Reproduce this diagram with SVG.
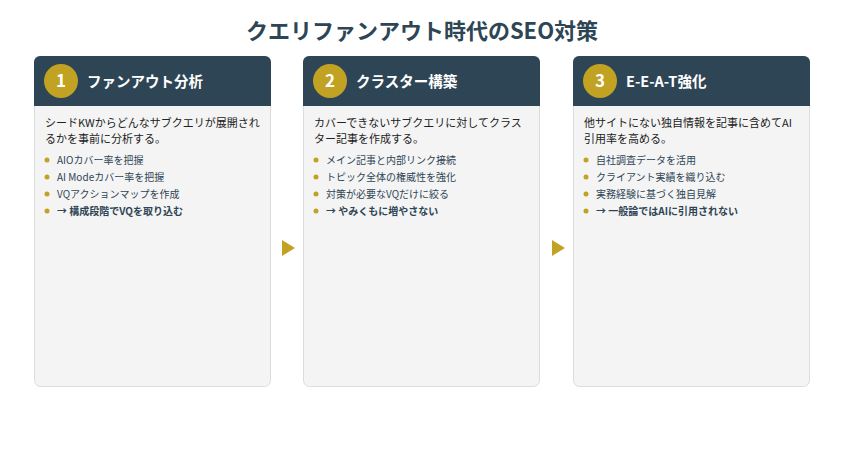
<svg xmlns="http://www.w3.org/2000/svg" width="844" height="473" viewBox="0 0 844 473">
<style>
text{font-family:"Noto Sans CJK JP","Noto Sans",sans-serif}
.card{fill:#f4f4f4;stroke:#dcdcdc;stroke-width:1}
.hdr{fill:#2e4555}
.num{fill:#c2a222}
.nt{fill:#fff;font-size:17px;font-weight:700;text-anchor:middle}
.ht{fill:#fff;font-size:14.5px;font-weight:700}
.bt{fill:#222;font-size:11px}
.li{fill:#2e4555;font-size:10px}
.lb{fill:#2e4555;font-size:10px;font-weight:700}
.dot{fill:#c2a222}
.arr{fill:#c2a222}
</style>
<rect width="844" height="473" fill="#fff"/>
<text x="422" y="39" text-anchor="middle" font-size="22" font-weight="700" fill="#2e4555">クエリファンアウト時代のSEO対策</text>
<g id="connectors">
<polygon class="arr" points="282,240 295,248 282,256"/>
<polygon class="arr" points="552,240 565,248 552,256"/>
</g>
<g id="card1">
<rect class="card" x="34.5" y="56.5" width="236" height="330" rx="6"/>
<path class="hdr" d="M34,106V62a6,6 0 0 1 6-6H265a6,6 0 0 1 6,6V106Z"/>
<circle class="num" cx="61" cy="81" r="17"/><text class="nt" x="61" y="87">1</text>
<text class="ht" x="87" y="87">ファンアウト分析</text>
<text class="bt" x="45" y="127">シードKWからどんなサブクエリが展開され</text>
<text class="bt" x="45" y="143">るかを事前に分析する。</text>
<circle class="dot" cx="47" cy="160" r="2.5"/><text class="li" x="57" y="164">AIOカバー率を把握</text>
<circle class="dot" cx="47" cy="177" r="2.5"/><text class="li" x="57" y="181">AI Modeカバー率を把握</text>
<circle class="dot" cx="47" cy="194" r="2.5"/><text class="li" x="57" y="198">VQアクションマップを作成</text>
<circle class="dot" cx="47" cy="211" r="2.5"/><text class="lb" x="57" y="215">→ 構成段階でVQを取り込む</text>
</g>
<g id="card2">
<rect class="card" x="303.5" y="56.5" width="236" height="330" rx="6"/>
<path class="hdr" d="M303,106V62a6,6 0 0 1 6-6H534a6,6 0 0 1 6,6V106Z"/>
<circle class="num" cx="330" cy="81" r="17"/><text class="nt" x="330" y="87">2</text>
<text class="ht" x="356" y="87">クラスター構築</text>
<text class="bt" x="314" y="127">カバーできないサブクエリに対してクラス</text>
<text class="bt" x="314" y="143">ター記事を作成する。</text>
<circle class="dot" cx="316" cy="160" r="2.5"/><text class="li" x="326" y="164">メイン記事と内部リンク接続</text>
<circle class="dot" cx="316" cy="177" r="2.5"/><text class="li" x="326" y="181">トピック全体の権威性を強化</text>
<circle class="dot" cx="316" cy="194" r="2.5"/><text class="li" x="326" y="198">対策が必要なVQだけに絞る</text>
<circle class="dot" cx="316" cy="211" r="2.5"/><text class="lb" x="326" y="215">→ やみくもに増やさない</text>
</g>
<g id="card3">
<rect class="card" x="573.5" y="56.5" width="236" height="330" rx="6"/>
<path class="hdr" d="M573,106V62a6,6 0 0 1 6-6H804a6,6 0 0 1 6,6V106Z"/>
<circle class="num" cx="600" cy="81" r="17"/><text class="nt" x="600" y="87">3</text>
<text class="ht" x="626" y="87">E-E-A-T強化</text>
<text class="bt" x="584" y="127">他サイトにない独自情報を記事に含めてAI</text>
<text class="bt" x="584" y="143">引用率を高める。</text>
<circle class="dot" cx="586" cy="160" r="2.5"/><text class="li" x="596" y="164">自社調査データを活用</text>
<circle class="dot" cx="586" cy="177" r="2.5"/><text class="li" x="596" y="181">クライアント実績を織り込む</text>
<circle class="dot" cx="586" cy="194" r="2.5"/><text class="li" x="596" y="198">実務経験に基づく独自見解</text>
<circle class="dot" cx="586" cy="211" r="2.5"/><text class="lb" x="596" y="215">→ 一般論ではAIに引用されない</text>
</g>
</svg>
